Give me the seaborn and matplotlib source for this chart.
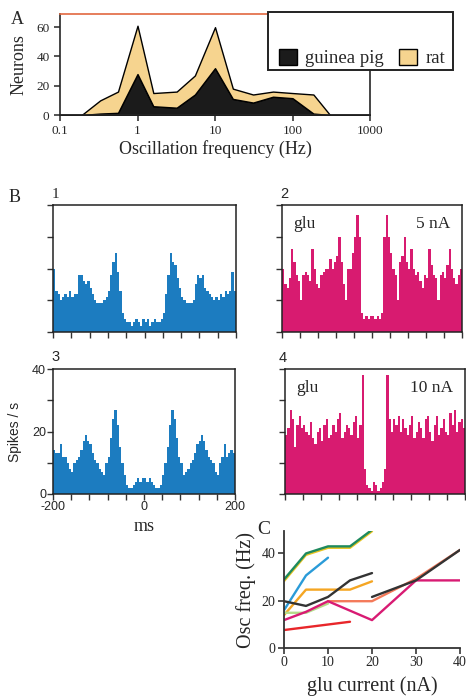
import numpy as np
import pandas as pd
import matplotlib
matplotlib.use('Agg')
import matplotlib.pyplot as plt
from matplotlib.patches import Rectangle, Patch
import seaborn as sns

sns.set_style('ticks')
plt.rcParams['font.family'] = ['Liberation Serif', 'DejaVu Serif']
plt.rcParams['axes.unicode_minus'] = False

SERIF = ['Liberation Serif', 'DejaVu Serif']
SANS = ['Liberation Sans', 'DejaVu Sans']

# ---- panel A : oscillation frequency distribution
freq = [0.1, 0.19, 0.33, 0.56, 1, 1.6, 3.2, 5.5, 10, 17, 31, 56, 100, 186, 305, 1000]
guinea_pig = [0, 0, 1, 1.5, 28, 6, 5, 14, 32, 11, 8.5, 12.5, 11.5, 1, 0, 0]
rat = [0, 0, 9, 14.5, 33, 9, 11, 13, 28, 7, 5.5, 3.5, 3.5, 13, 0, 0]

# ---- panel B : autocorrelograms (5 ms bins, -200..200 ms)
b1_control = [20, 13, 12, 10, 11, 12, 11, 13, 11, 12,
              12, 18, 18, 16, 15, 16, 14, 12, 10, 9,
              9, 9, 10, 11, 13, 18, 22, 25, 19, 13,
              6, 4, 3, 3, 2, 3, 4, 3, 2, 4,
              3, 4, 2, 3, 4, 3, 3, 4, 6, 12,
              18, 25, 22, 21, 17, 14, 11, 10, 9, 9,
              9, 10, 15, 18, 17, 18, 14, 13, 12, 11,
              10, 11, 10, 12, 11, 13, 12, 13, 19, 13]
b2_glu5 = [20, 15, 14, 17, 26, 22, 18, 16, 10, 18,
           19, 18, 16, 26, 20, 15, 14, 18, 19, 20,
           20, 23, 20, 22, 24, 30, 22, 15, 10, 20,
           20, 25, 30, 37, 30, 6, 4, 5, 4, 5,
           5, 4, 5, 4, 6, 30, 37, 30, 25, 20,
           18, 10, 22, 24, 30, 22, 20, 26, 20, 18,
           19, 16, 14, 18, 17, 26, 21, 18, 17, 10,
           18, 19, 17, 21, 26, 20, 17, 15, 18, 20]
b3_control = [14, 13, 13, 16, 12, 12, 10, 8, 7, 10,
              11, 12, 14, 17, 19, 17, 16, 13, 11, 10,
              8, 7, 6, 10, 12, 18, 24, 27, 22, 15,
              10, 6, 3, 2, 2, 3, 4, 5, 4, 5,
              5, 4, 5, 4, 3, 2, 2, 3, 6, 10,
              15, 22, 27, 24, 18, 12, 10, 6, 7, 8,
              10, 11, 13, 16, 17, 19, 17, 14, 12, 11,
              10, 7, 6, 10, 12, 16, 12, 13, 14, 13]
b4_glu10 = [19, 21, 27, 24, 15, 22, 25, 21, 22, 20,
            19, 23, 18, 16, 20, 21, 17, 22, 24, 18,
            19, 22, 20, 24, 26, 18, 20, 22, 21, 19,
            23, 25, 18, 22, 38, 8, 3, 2, 1, 4,
            3, 1, 2, 4, 8, 38, 24, 20, 24, 22,
            25, 20, 24, 21, 19, 22, 25, 18, 20, 23,
            21, 18, 24, 25, 20, 17, 22, 25, 19, 21,
            24, 20, 19, 26, 22, 27, 20, 23, 24, 21]

# ---- panel C : oscillation frequency vs glu current, one entry per cell
c_cells = {
    'yellow':     ([0, 5, 10, 15, 20], [28.3, 39.4, 42.4, 42.4, 49.4]),
    'green':      ([0, 5, 10, 15, 20], [29, 40, 43, 43, 50]),
    'blue':       ([0, 5, 10], [16, 30.7, 38.2]),
    'orange':     ([0, 5, 15, 20], [13.9, 24.7, 24.7, 28.2]),
    'lightgreen': ([0, 5, 10], [14.9, 14.9, 18.8]),
    'salmon':     ([10, 20, 30, 40], [19.8, 19.8, 29.3, 41.5]),
    'magenta':    ([0, 5, 10, 20, 30, 40], [11.8, 15.3, 19.8, 11.8, 28.6, 28.6]),
    'black1':     ([0, 5, 10, 15, 20], [19.8, 17.8, 21.6, 28.6, 31.7]),
    'black2':     ([20, 30, 40], [21.6, 28.6, 41.5]),
    'red':        ([0, 15], [7.6, 11.1]),
}
c_colors = {'yellow': '#e9c523', 'green': '#1e8a5e', 'blue': '#2a9bd8',
            'orange': '#f5a623', 'lightgreen': '#b5dc8a', 'salmon': '#f47a5a',
            'magenta': '#d81b73', 'black1': '#333333', 'black2': '#333333',
            'red': '#e8262a'}

BLUE = '#1c7cc0'
MAGENTA = '#d81b70'

W, H = 466, 697
fig = plt.figure(figsize=(W / 100, H / 100), dpi=100)


def ax_px(left, top, right, bottom):
    return fig.add_axes([left / W, 1 - bottom / H, (right - left) / W, (bottom - top) / H])


# ================= A
axA = ax_px(60, 14, 370, 115)
axA.stackplot(freq, guinea_pig, rat, colors=['#1b1b1b', '#f6d48f'],
              edgecolor='black', linewidth=1.0)
axA.set_xscale('log')
axA.set_xlim(0.1, 1000)
axA.set_ylim(0, 69)
axA.set_xticks([0.1, 1, 10, 100, 1000])
axA.set_xticklabels(['0.1', '1', '10', '100', '1000'])
axA.xaxis.set_minor_locator(matplotlib.ticker.NullLocator())
axA.set_yticks([0, 20, 40, 60])
for s in axA.spines.values():
    s.set_linewidth(1.2)
axA.spines['top'].set_color('#e2673f')
axA.tick_params(labelsize=9.5, length=4, width=1.1)
axA.set_xlabel('Oscillation frequency (Hz)', fontsize=13)
axA.set_ylabel('Neurons', fontsize=13)
axA.xaxis.set_label_coords(0.5, -0.25)
axA.yaxis.set_label_coords(-0.105, 0.5)

fig.patches.append(Rectangle((268 / W, 1 - 70 / H), 185 / W, 58 / H, transform=fig.transFigure,
                             facecolor='white', edgecolor='#222222', linewidth=1.4, zorder=3))
handles = [Patch(facecolor='#1b1b1b', edgecolor='black', linewidth=1.0),
           Patch(facecolor='#f6d48f', edgecolor='black', linewidth=1.0)]
fig.legend(handles, ['guinea pig', 'rat'], loc='center', bbox_to_anchor=(362 / W, 1 - 58 / H),
           ncol=2, frameon=False, fontsize=13.5, handlelength=0.95, handleheight=0.95,
           handletextpad=0.45, columnspacing=0.8)

# ================= B
b_panels = [
    (b1_control, BLUE, (53, 205, 236, 332), '1', None),
    (b2_glu5, MAGENTA, (282, 205, 462, 332), '2', '5 nA'),
    (b3_control, BLUE, (53, 369, 235, 494), '3', None),
    (b4_glu10, MAGENTA, (285, 369, 465, 494), '4', '10 nA'),
]
lags = np.arange(-197.5, 200, 5)
axes_b = []
for vals, col, box, num, cur in b_panels:
    ax = ax_px(*box)
    df_b = pd.DataFrame({'lag': lags, 'rate': vals})
    sns.histplot(data=df_b, x='lag', weights='rate', binwidth=5, binrange=(-200, 200),
                 element='step', fill=True, color=col, alpha=1, linewidth=0, ax=ax)
    ax.set_xlim(-200, 200)
    ax.set_ylim(0, 40)
    ax.set_xticks(np.arange(-200, 201, 40))
    ax.set_yticks([0, 10, 20, 30, 40])
    ax.set_xticklabels([])
    ax.set_yticklabels([])
    ax.set_xlabel('')
    ax.set_ylabel('')
    for s in ax.spines.values():
        s.set_visible(True)
        s.set_linewidth(1.1)
        s.set_color('#222222')
    ax.tick_params(length=4, width=1.0, color='#333333')
    if cur is not None:
        ax.text(0.065, 0.85, 'glu', transform=ax.transAxes, fontsize=12.5,
                va='center', ha='left', family=SERIF)
        ax.text(0.935, 0.85, cur, transform=ax.transAxes, fontsize=12.5,
                va='center', ha='right', family=SERIF)
    axes_b.append(ax)

axB3 = axes_b[2]
axB3.set_xticklabels(['-200', '', '', '', '', '0', '', '', '', '', '200'], family=SANS)
axB3.set_yticklabels(['0', '', '20', '', '40'], family=SANS)
axB3.tick_params(labelsize=9, pad=1)
axB3.set_ylabel('Spikes / s', fontsize=10, family=SANS)
axB3.yaxis.set_label_coords(-0.17, 0.5)
axB3.set_xlabel('ms', fontsize=13)
axB3.xaxis.set_label_coords(0.5, -0.19)

# ================= C
rows = []
for cell, (xs, ys) in c_cells.items():
    for x, y in zip(xs, ys):
        rows.append({'cell': cell, 'current': x, 'freq': y})
df_c = pd.DataFrame(rows)

axC = ax_px(284, 531, 460, 648)
sns.lineplot(data=df_c, x='current', y='freq', hue='cell', hue_order=list(c_cells),
             palette=c_colors, sort=False, estimator=None, legend=False,
             linewidth=1.7, ax=axC)
axC.set_xlim(0, 40)
axC.set_ylim(0, 49.5)
axC.set_xticks([0, 10, 20, 30, 40])
axC.set_yticks([0, 20, 40])
sns.despine(ax=axC)
for s in ('left', 'bottom'):
    axC.spines[s].set_linewidth(1.3)
    axC.spines[s].set_color('#333333')
axC.tick_params(labelsize=10, length=4, width=1.1, pad=2)
axC.set_xlabel('glu current (nA)', fontsize=14.5)
axC.set_ylabel('Osc freq. (Hz)', fontsize=14.5)
axC.xaxis.set_label_coords(0.5, -0.24)
axC.yaxis.set_label_coords(-0.16, 0.5)

# ---- panel letters and numbers
for txt, x, y, fam, size in [('A', 17, 20, SERIF, 13), ('B', 15, 197, SERIF, 13),
                             ('C', 264, 530, SERIF, 14),
                             ('1', 55, 194, SERIF, 11), ('2', 284, 194, SANS, 10.5),
                             ('3', 56, 357, SANS, 10.5), ('4', 283, 358, SANS, 10.5)]:
    fig.text(x / W, 1 - y / H, txt, fontsize=size, family=fam, ha='center', va='center')

fig.savefig('out.png', dpi=100)
